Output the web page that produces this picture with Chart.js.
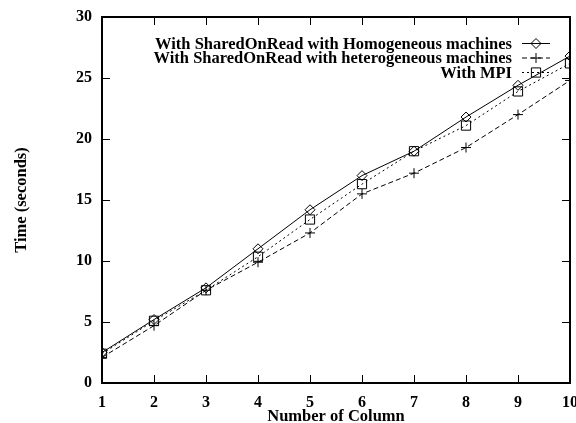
<!DOCTYPE html>
<html>
<head>
<meta charset="utf-8">
<script src="https://cdn.jsdelivr.net/npm/chart.js@4/dist/chart.umd.min.js"></script>
<style>
  html, body { margin: 0; padding: 0; background: #fff; overflow: hidden; }
  #wrap { width: 576px; height: 423px; overflow: hidden; }
</style>
</head>
<body>
<div id="wrap"><canvas id="chart" width="592" height="423"></canvas></div>
<script>
// values
const columns = [1, 2, 3, 4, 5, 6, 7, 8, 9, 10];
const homogeneous = [2.5, 5.2, 7.8, 11.0, 14.2, 17.0, 19.0, 21.8, 24.4, 26.8];
const heterogeneous = [2.1, 4.7, 7.6, 9.9, 12.3, 15.5, 17.2, 19.3, 22.0, 24.8];
const mpi = [2.4, 5.1, 7.6, 10.35, 13.4, 16.3, 19.0, 21.1, 23.9, 26.2];
const seriesLabels = [
    'With SharedOnRead with Homogeneous machines',
    'With SharedOnRead with heterogeneous machines',
    'With MPI'
];

const FONT = '"Liberation Serif", "Times New Roman", serif';

function toPoints(values) {
    return columns.map((c, i) => ({ x: c, y: values[i] }));
}

// gnuplot style frame with inward ticks on all four sides
const framePlugin = {
    id: 'frame',
    afterDraw(chart) {
        const { ctx, chartArea: a, scales } = chart;
        const len = 8;
        ctx.save();
        ctx.strokeStyle = '#000';
        ctx.lineWidth = 1;
        ctx.beginPath();
        scales.x.ticks.forEach(t => {
            const px = Math.round(scales.x.getPixelForValue(t.value)) + 0.5;
            ctx.moveTo(px, a.bottom); ctx.lineTo(px, a.bottom - len);
            ctx.moveTo(px, a.top); ctx.lineTo(px, a.top + len);
        });
        scales.y.ticks.forEach(t => {
            const py = Math.round(scales.y.getPixelForValue(t.value)) + 0.5;
            ctx.moveTo(a.left, py); ctx.lineTo(a.left + len, py);
            ctx.moveTo(a.right, py); ctx.lineTo(a.right - len, py);
        });
        ctx.stroke();
        ctx.lineWidth = 2;
        ctx.strokeRect(Math.round(a.left), Math.round(a.top),
            Math.round(a.right - a.left), Math.round(a.bottom - a.top));
        ctx.restore();
    }
};

// legend: right aligned text, sample line with marker on the right
const keyPlugin = {
    id: 'key',
    afterDraw(chart) {
        const { ctx } = chart;
        const textRight = 512, lineStart = 522, lineEnd = 550;
        const rows = [43, 57.5, 72];
        ctx.save();
        ctx.font = 'bold 16.5px ' + FONT;
        ctx.textAlign = 'right';
        ctx.textBaseline = 'alphabetic';
        chart.data.datasets.forEach((ds, i) => {
            const y = rows[i];
            ctx.fillStyle = '#000';
            ctx.fillText(ds.label, textRight, y + 5.5);
            ctx.strokeStyle = '#000';
            ctx.lineWidth = 1;
            ctx.setLineDash(ds.borderDash || []);
            ctx.beginPath();
            ctx.moveTo(lineStart, y + 0.5);
            ctx.lineTo(lineEnd, y + 0.5);
            ctx.stroke();
            ctx.setLineDash([]);
            ctx.fillStyle = 'rgba(0,0,0,0)';
            Chart.helpers.drawPoint(ctx, {
                pointStyle: ds.pointStyle,
                radius: ds.pointRadius,
                rotation: 0,
                borderWidth: 1
            }, (lineStart + lineEnd) / 2, y + 0.5);
        });
        ctx.restore();
    }
};

const common = {
    borderColor: '#000',
    borderWidth: 1,
    pointBorderColor: '#000',
    pointBackgroundColor: 'rgba(0,0,0,0)',
    pointBorderWidth: 1,
    tension: 0,
    fill: false
};

new Chart(document.getElementById('chart'), {
    type: 'line',
    data: {
        datasets: [
            Object.assign({}, common, {
                label: seriesLabels[0],
                data: toPoints(homogeneous),
                pointStyle: 'rectRot',
                pointRadius: 5
            }),
            Object.assign({}, common, {
                label: seriesLabels[1],
                data: toPoints(heterogeneous),
                borderDash: [5, 3],
                pointStyle: 'cross',
                pointRadius: 5
            }),
            Object.assign({}, common, {
                label: seriesLabels[2],
                data: toPoints(mpi),
                borderDash: [2, 3],
                pointStyle: 'rect',
                pointRadius: 6.5
            })
        ]
    },
    options: {
        responsive: false,
        animation: false,
        layout: { padding: { top: 17, right: 22, bottom: 0, left: 0 } },
        plugins: {
            legend: { display: false },
            tooltip: { enabled: false }
        },
        scales: {
            x: {
                type: 'linear',
                min: 1,
                max: 10,
                grid: { display: false, drawTicks: false },
                border: { display: false },
                ticks: {
                    stepSize: 1,
                    padding: 10,
                    color: '#000',
                    font: { family: FONT, size: 16, weight: 'bold' }
                },
                title: {
                    display: true,
                    text: 'Number of Column',
                    color: '#000',
                    padding: 0,
                    font: { family: FONT, size: 16.5, weight: 'bold', lineHeight: 0.7 }
                },
                afterFit(scale) {
                    scale.height = 40;
                    scale.paddingLeft = 0;
                    scale.paddingRight = 0;
                }
            },
            y: {
                min: 0,
                max: 30,
                grid: { display: false, drawTicks: false },
                border: { display: false },
                ticks: {
                    stepSize: 5,
                    padding: 10,
                    color: '#000',
                    font: { family: FONT, size: 16, weight: 'bold' }
                },
                title: {
                    display: true,
                    text: 'Time (seconds)',
                    color: '#000',
                    padding: { top: 13, bottom: 0 },
                    font: { family: FONT, size: 16.5, weight: 'bold', lineHeight: 1 }
                },
                afterFit(scale) {
                    scale.width = 102;
                    scale.paddingTop = 0;
                    scale.paddingBottom = 0;
                }
            }
        }
    },
    plugins: [framePlugin, keyPlugin]
});
</script>
</body>
</html>
